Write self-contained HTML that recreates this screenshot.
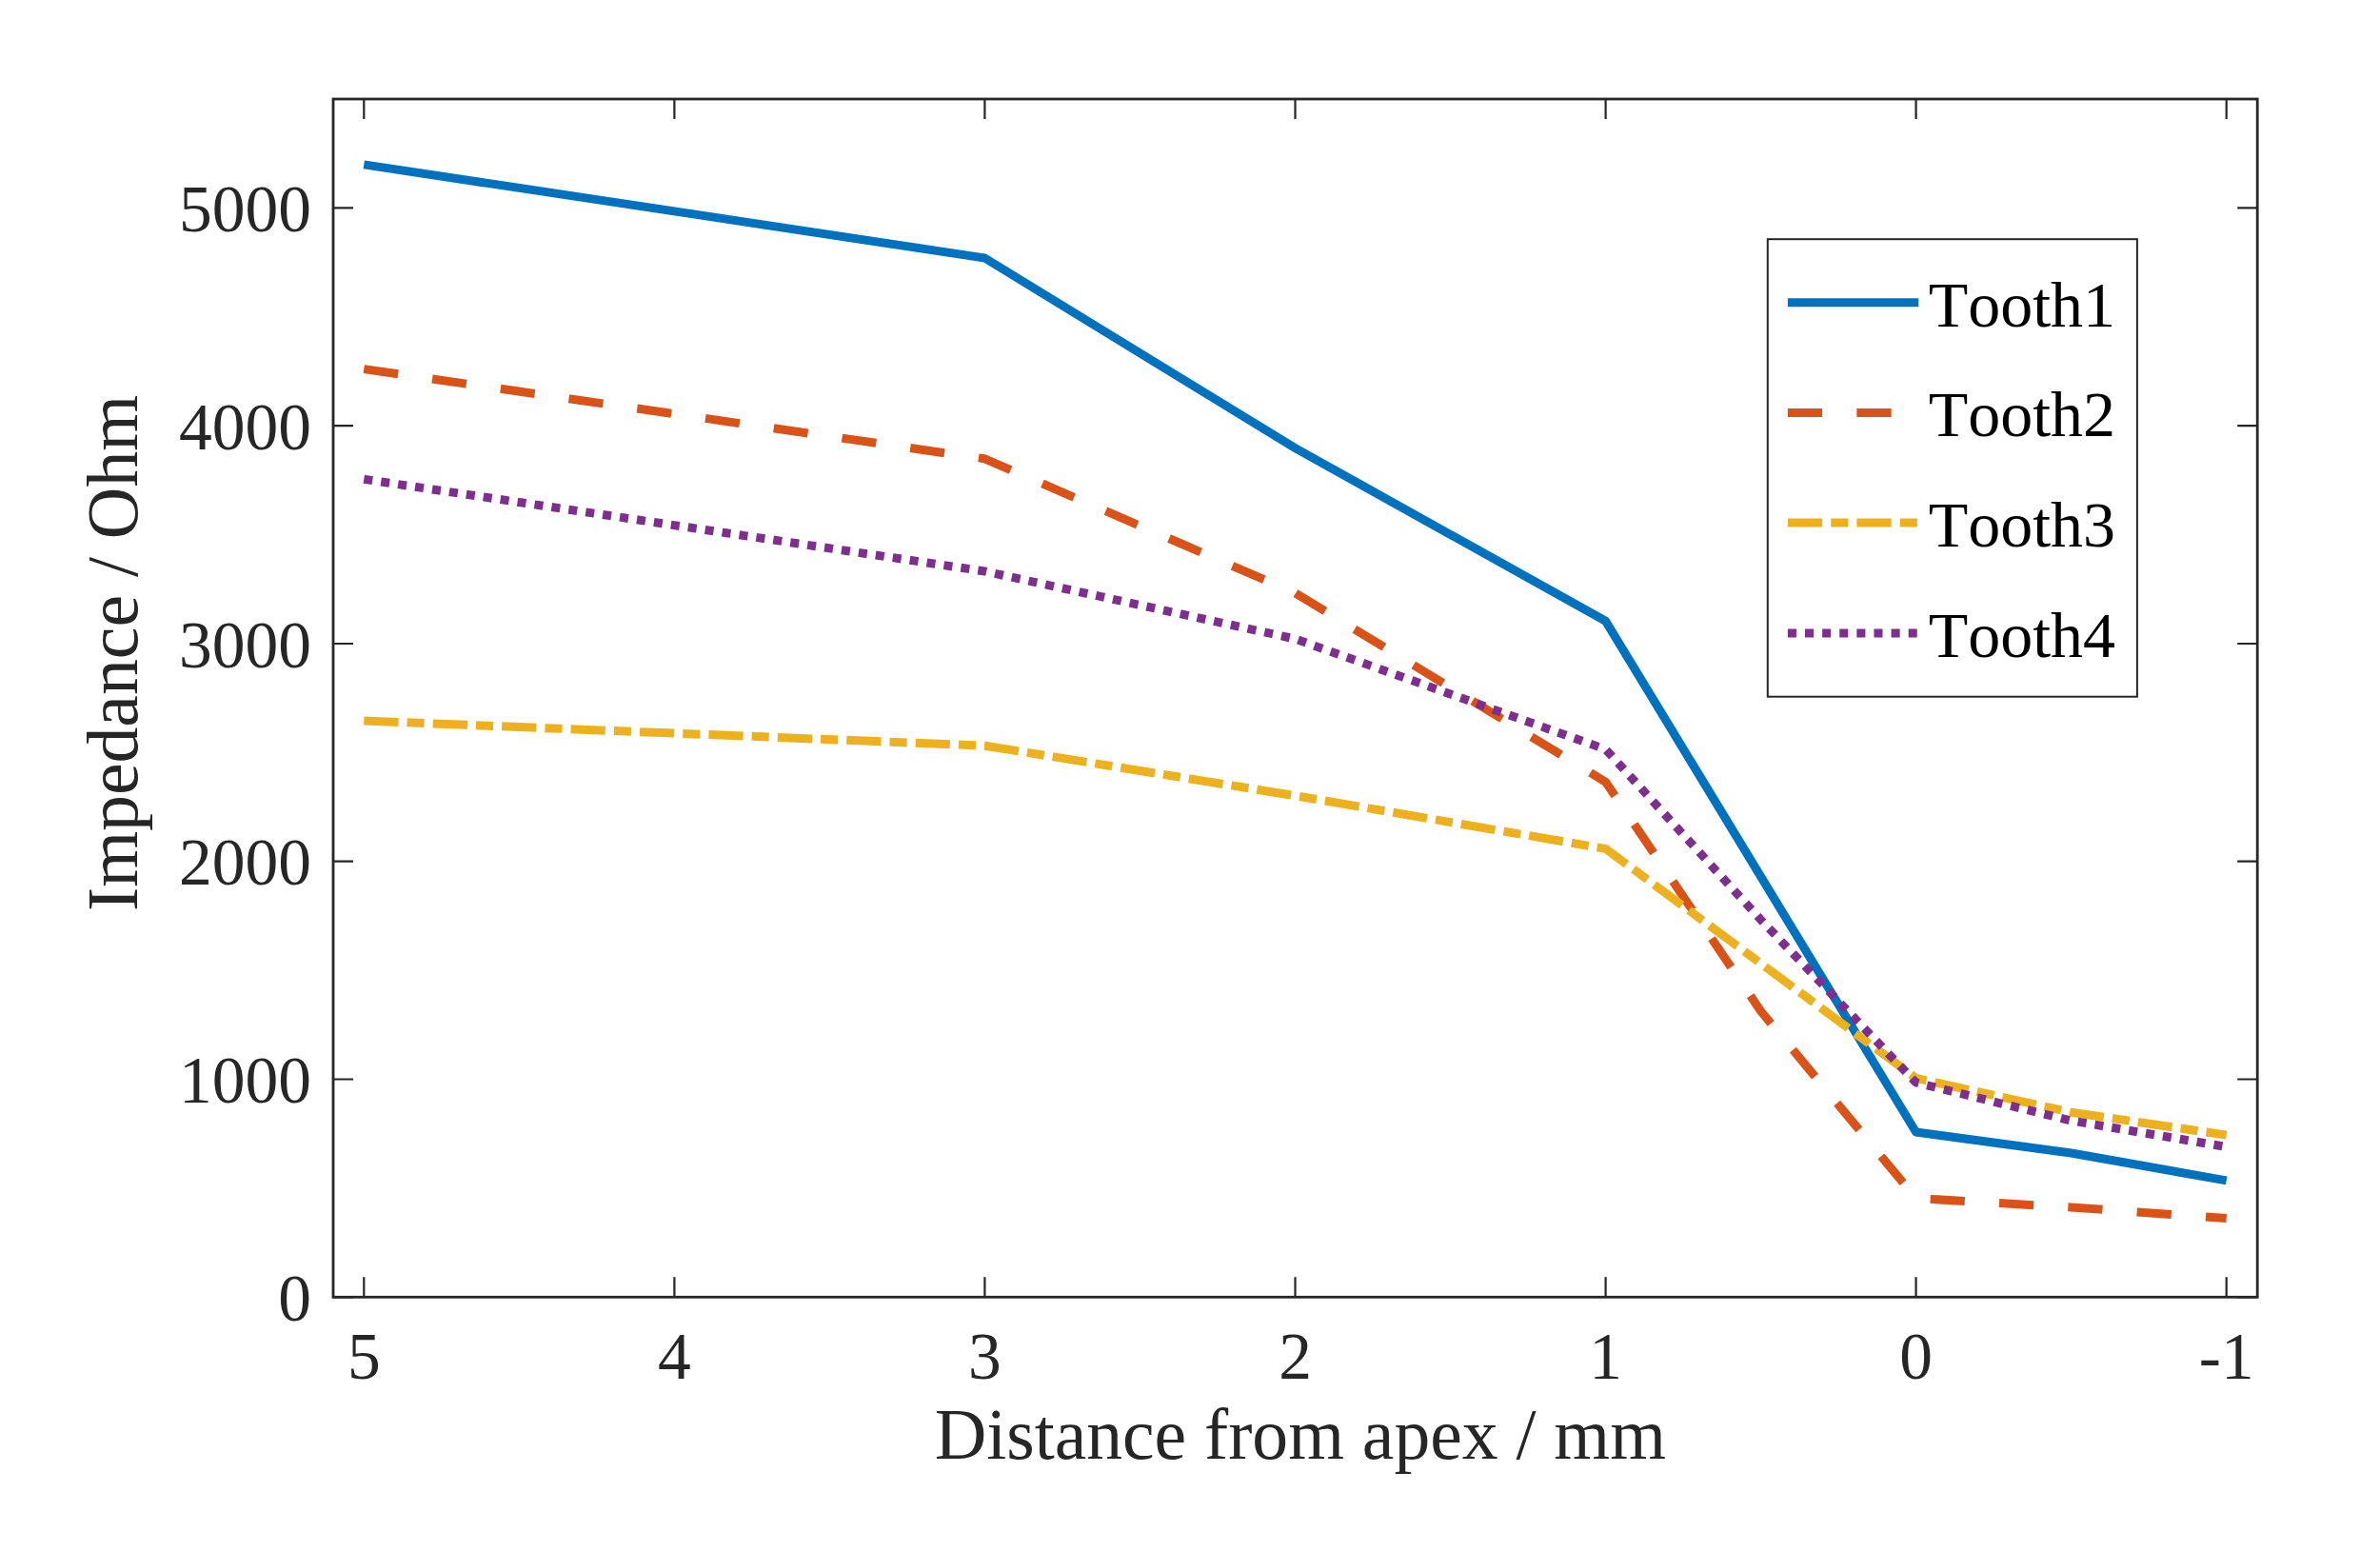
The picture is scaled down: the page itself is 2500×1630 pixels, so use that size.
<!DOCTYPE html>
<html><head><meta charset="utf-8"><title>Impedance vs distance from apex</title>
<style>
html,body{margin:0;padding:0;background:#fff;}
body{width:2500px;height:1630px;overflow:hidden;}
svg{display:block;}
text{font-family:"Liberation Serif","Times New Roman",serif;font-kerning:none;font-feature-settings:"kern" 0;}
</style></head><body>
<svg width="2500" height="1630" viewBox="0 0 2500 1630">
<rect x="0" y="0" width="2500" height="1630" fill="#fff"/>
<g fill="none" stroke-width="9" stroke-linecap="butt" stroke-linejoin="round">
 <polyline points="382.3,172.9 1034.4,271.0 1360.5,470.6 1686.6,652.3 2012.6,1189.0 2175.6,1211.0 2338.7,1239.9" stroke="#0072BD"/>
 <polyline points="382.3,387.6 1034.4,481.8 1360.5,622.8 1686.6,821.3 1849.6,1062.0 2012.6,1258.5 2175.6,1268.0 2338.7,1279.6" stroke="#D95319" stroke-dasharray="36.24 36.24"/>
 <polyline points="382.3,757.0 1034.4,783.2 1360.5,835.7 1686.6,891.4 2012.6,1132.4 2175.6,1168.2 2338.7,1192.1" stroke="#EDB120" stroke-dasharray="36.24 9.06 18.12 9.06"/>
 <polyline points="382.3,503.3 1034.4,600.0 1360.5,671.0 1686.6,787.0 1849.6,966.0 2012.6,1137.0 2175.6,1177.0 2338.7,1204.5" stroke="#7E2F8E" stroke-dasharray="9.056 9.056"/>
</g>
<path d="M382.3,1362.3V1341.3M382.3,104.0V125.0M708.4,1362.3V1341.3M708.4,104.0V125.0M1034.4,1362.3V1341.3M1034.4,104.0V125.0M1360.5,1362.3V1341.3M1360.5,104.0V125.0M1686.6,1362.3V1341.3M1686.6,104.0V125.0M2012.6,1362.3V1341.3M2012.6,104.0V125.0M2338.7,1362.3V1341.3M2338.7,104.0V125.0M350.0,1362.3H371.0M2371.2,1362.3H2350.2M350.0,1133.5H371.0M2371.2,1133.5H2350.2M350.0,904.7H371.0M2371.2,904.7H2350.2M350.0,676.0H371.0M2371.2,676.0H2350.2M350.0,447.2H371.0M2371.2,447.2H2350.2M350.0,218.4H371.0M2371.2,218.4H2350.2" stroke="#262626" stroke-width="2.2" fill="none"/>
<rect x="350.0" y="104.0" width="2021.2" height="1258.3" fill="none" stroke="#262626" stroke-width="2.8"/>
<g fill="#262626" font-size="69.5">
 <text x="382.3" y="1448.1" text-anchor="middle">5</text>
 <text x="708.4" y="1448.1" text-anchor="middle">4</text>
 <text x="1034.4" y="1448.1" text-anchor="middle">3</text>
 <text x="1360.5" y="1448.1" text-anchor="middle">2</text>
 <text x="1686.6" y="1448.1" text-anchor="middle">1</text>
 <text x="2012.6" y="1448.1" text-anchor="middle">0</text>
 <text x="2338.7" y="1448.1" text-anchor="middle">-1</text>
 <text x="327" y="1387.0" text-anchor="end">0</text>
 <text x="327" y="1158.2" text-anchor="end">1000</text>
 <text x="327" y="929.4" text-anchor="end">2000</text>
 <text x="327" y="700.7" text-anchor="end">3000</text>
 <text x="327" y="471.9" text-anchor="end">4000</text>
 <text x="327" y="243.1" text-anchor="end">5000</text>
</g>
<text x="1365.8" y="1532.4" font-size="75.6" fill="#262626" text-anchor="middle">Distance from apex / mm</text>
<text transform="translate(144.4,685.9) rotate(-90)" x="0" y="0" font-size="75.7" fill="#262626" text-anchor="middle">Impedance / Ohm</text>
<rect x="1856.8" y="251.2" width="388.1" height="480.5" fill="#fff" stroke="#262626" stroke-width="2.0"/>
<line x1="1877.9" y1="317.8" x2="2015.3" y2="317.8" stroke="#0072BD" stroke-width="9"/>
<text x="2025.7" y="342.7" font-size="68" fill="#000">Tooth1</text>
<line x1="1877.9" y1="433.4" x2="2015.3" y2="433.4" stroke="#D95319" stroke-width="9" stroke-dasharray="36.24 36.24"/>
<text x="2025.7" y="458.2" font-size="68" fill="#000">Tooth2</text>
<line x1="1877.9" y1="549.0" x2="2015.3" y2="549.0" stroke="#EDB120" stroke-width="9" stroke-dasharray="36.24 9.06 18.12 9.06"/>
<text x="2025.7" y="573.9" font-size="68" fill="#000">Tooth3</text>
<line x1="1877.9" y1="665.0" x2="2015.3" y2="665.0" stroke="#7E2F8E" stroke-width="9" stroke-dasharray="9.056 9.056"/>
<text x="2025.7" y="689.9" font-size="68" fill="#000">Tooth4</text>
</svg>
</body></html>
